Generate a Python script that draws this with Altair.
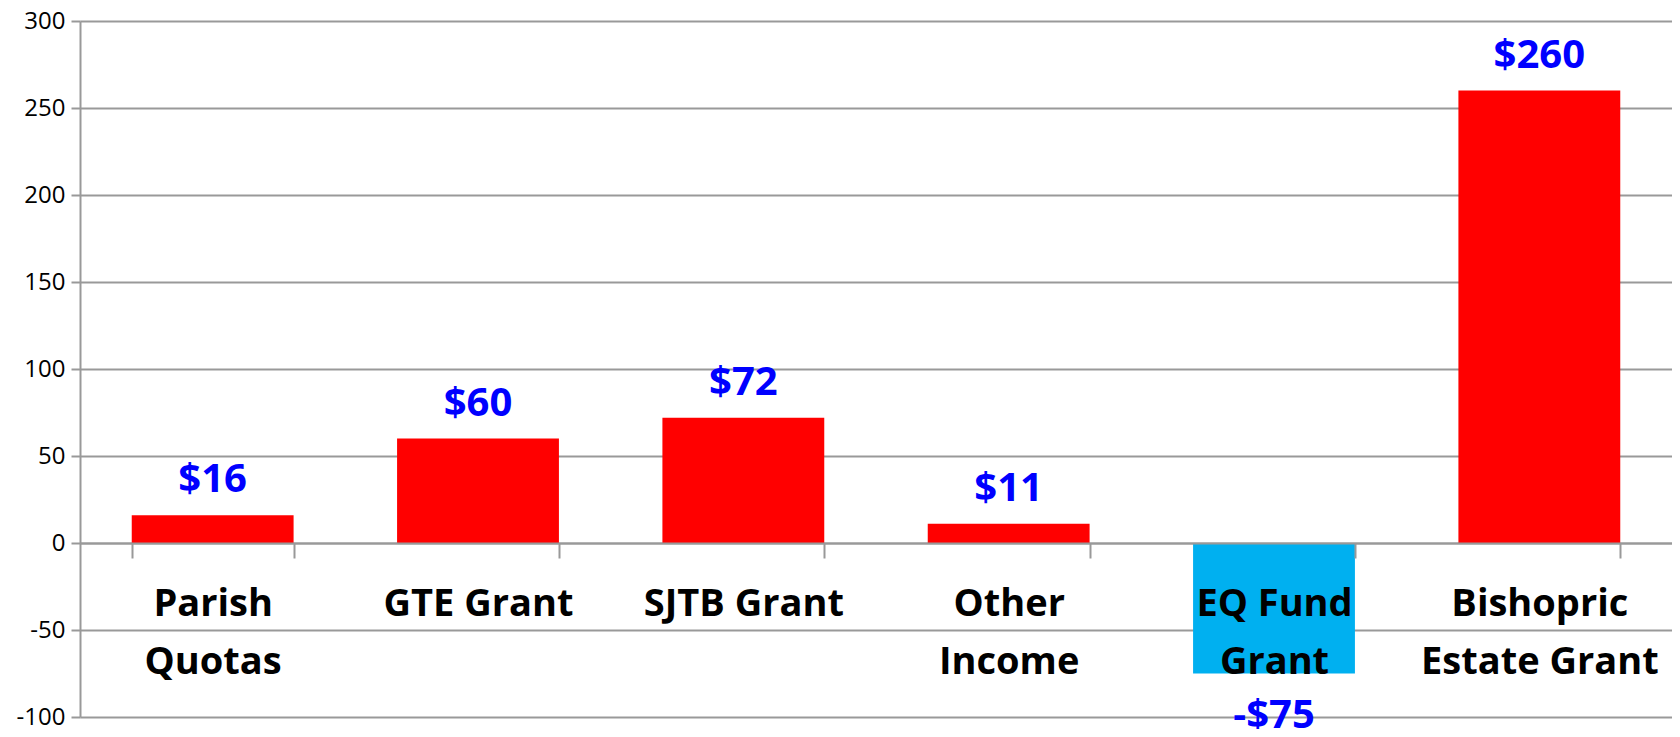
import altair as alt
import pandas as pd

categories = ["Parish Quotas", "GTE Grant", "SJTB Grant", "Other Income", "EQ Fund Grant", "Bishopric Estate Grant"]
display_labels = ["Parish|Quotas", "GTE Grant", "SJTB Grant", "Other|Income", "EQ Fund|Grant", "Bishopric|Estate Grant"]
values = [16, 60, 72, 11, -75, 260]
value_labels = ["$16", "$60", "$72", "$11", "-$75", "$260"]
bar_colors = ["#FF0000", "#FF0000", "#FF0000", "#FF0000", "#00B0F0", "#FF0000"]
y_ticks = [-100, -50, 0, 50, 100, 150, 200, 250, 300]

df = pd.DataFrame({"cat": display_labels, "value": values, "label": value_labels})

FONT = "Open Sans"
x = alt.X("cat:N", sort=display_labels, title=None,
          scale=alt.Scale(paddingInner=0.39, paddingOuter=0.195),
          axis=alt.Axis(offset=-174, labelAngle=0,
                        labelExpr="datum.value ? split(datum.value, '|') : ''",
                        labelFont=FONT, labelFontSize=38, labelFontWeight="bold", labelColor="#000000",
                        labelLineHeight=58, labelBaseline="top", labelPadding=27, labelLimit=400,
                        domainColor="#999999", domainWidth=2, tickColor="#999999", tickWidth=2,
                        tickSize=15, tickBand="extent", zindex=1, grid=False))
y = alt.Y("value:Q", title=None,
          scale=alt.Scale(domain=[-100, 300], nice=False, zero=False),
          axis=alt.Axis(values=y_ticks, labelExpr="'' + datum.value",
                        labelFont=FONT, labelFontSize=24, labelColor="#000000",
                        labelPadding=6, tickSize=9, tickColor="#999999", tickWidth=2,
                        domainColor="#999999", domainWidth=2, gridColor="#999999", gridWidth=2))

bars = alt.Chart(df).mark_bar().encode(
    x=x, y=y,
    color=alt.Color("cat:N", scale=alt.Scale(domain=display_labels, range=bar_colors), legend=None),
)

pos = alt.Chart(df).transform_filter("datum.value >= 0").mark_text(
    font=FONT, fontSize=40, fontWeight="bold", color="#0000FF", baseline="alphabetic", dy=-23
).encode(x=alt.X("cat:N", sort=display_labels), y="value:Q", text="label:N")

neg = alt.Chart(df).transform_filter("datum.value < 0").mark_text(
    font=FONT, fontSize=40, fontWeight="bold", color="#0000FF", baseline="alphabetic", dy=54
).encode(x=alt.X("cat:N", sort=display_labels), y="value:Q", text="label:N")

chart = alt.layer(bars, pos, neg).properties(
    width=1592, height=696,
    autosize=alt.AutoSizeParams(type="none"),
    padding={"left": 72, "top": 13, "right": 0, "bottom": 12},
).configure_view(stroke=None)

chart.save("out.html", embed_options={"renderer": "svg", "actions": False})
